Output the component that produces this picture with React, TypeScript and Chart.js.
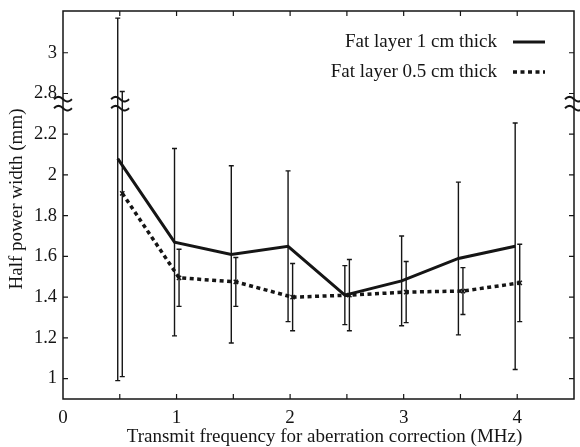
import { useEffect, useRef } from 'react';
import { Chart, registerables } from 'chart.js';

Chart.register(...registerables);

// ---- data ----
const frequencies = [0.5, 1, 1.5, 2, 2.5, 3, 3.5, 4];
const fat1cm = [2.08, 1.67, 1.61, 1.65, 1.41, 1.48, 1.59, 1.65];
const fat1cmErr = [1.09, 0.46, 0.435, 0.37, 0.145, 0.22, 0.375, 0.605];
const fat05cm = [1.91, 1.495, 1.475, 1.4, 1.41, 1.425, 1.43, 1.47];
const fat05cmErr = [0.9, 0.14, 0.12, 0.165, 0.175, 0.15, 0.115, 0.19];
const seriesLabels = ['Fat layer 1 cm thick', 'Fat layer 0.5 cm thick'];
const yTickValues = [1, 1.2, 1.4, 1.6, 1.8, 2, 2.2, 2.8, 3];
const xTitle = 'Transmit frequency for aberration correction (MHz)';
const yTitle = 'Half power width (mm)';

// broken y axis: the 2.2 .. 2.8 interval is compressed by 0.4
const BREAK_CUT = 0.4;
const toAxis = (v: number) => (v >= 2.5 ? v - BREAK_CUT : v);
const fromAxis = (a: number) => (a > 2.3 ? a + BREAK_CUT : a);
const BREAK_AT = 2.35; // axis units

const SHIFT_1 = -0.018;
const SHIFT_05 = 0.022;

const INK = '#151515';
const FONT = "'Liberation Serif', 'Times New Roman', serif";

function fmt(v: number) {
  return String(Math.round(v * 10) / 10);
}

const errorBarPlugin = {
  id: 'errorBars',
  beforeDatasetsDraw(chart: any) {
    const { ctx } = chart;
    const xs = chart.scales.x;
    const ys = chart.scales.y;
    ctx.save();
    ctx.strokeStyle = INK;
    ctx.lineWidth = 1.4;
    chart.data.datasets.forEach((ds: any) => {
      ds.data.forEach((pt: any, i: number) => {
        const real = ds.realValues[i];
        const e = ds.errors[i];
        const px = xs.getPixelForValue(pt.x);
        const top = ys.getPixelForValue(toAxis(real + e));
        const bot = ys.getPixelForValue(toAxis(real - e));
        ctx.beginPath();
        ctx.moveTo(px, top);
        ctx.lineTo(px, bot);
        ctx.moveTo(px - 2.5, top);
        ctx.lineTo(px + 2.5, top);
        ctx.moveTo(px - 2.5, bot);
        ctx.lineTo(px + 2.5, bot);
        ctx.stroke();
      });
    });
    ctx.restore();
  },
};

function drawBreak(ctx: CanvasRenderingContext2D, cx: number, cy: number) {
  ctx.save();
  ctx.strokeStyle = INK;
  ctx.lineWidth = 2;
  [-4.5, 4.5].forEach((dy) => {
    ctx.beginPath();
    for (let t = -9; t <= 9; t += 0.5) {
      const y = cy + dy + 2.3 * Math.sin((Math.PI * t) / 9);
      if (t === -9) ctx.moveTo(cx + t, y);
      else ctx.lineTo(cx + t, y);
    }
    ctx.stroke();
  });
  ctx.restore();
}

const framePlugin = {
  id: 'frame',
  afterDraw(chart: any) {
    const { ctx, chartArea: a } = chart;
    const xs = chart.scales.x;
    const ys = chart.scales.y;
    ctx.save();
    ctx.strokeStyle = INK;
    ctx.lineWidth = 1.5;
    ctx.strokeRect(a.left, a.top, a.right - a.left, a.bottom - a.top);
    ctx.lineWidth = 1.2;
    const TL = 5;
    ctx.beginPath();
    xs.ticks.forEach((t: any) => {
      const px = xs.getPixelForValue(t.value);
      if (px <= a.left + 1 || px >= a.right - 1) return;
      ctx.moveTo(px, a.bottom);
      ctx.lineTo(px, a.bottom - TL);
      ctx.moveTo(px, a.top);
      ctx.lineTo(px, a.top + TL);
    });
    ys.ticks.forEach((t: any) => {
      const py = ys.getPixelForValue(t.value);
      ctx.moveTo(a.left, py);
      ctx.lineTo(a.left + TL, py);
      ctx.moveTo(a.right, py);
      ctx.lineTo(a.right - TL, py);
    });
    ctx.stroke();

    // axis breaks
    const by = ys.getPixelForValue(BREAK_AT);
    drawBreak(ctx, a.left, by);
    drawBreak(ctx, a.right, by);
    drawBreak(ctx, xs.getPixelForValue(frequencies[0] + 0.003), by);

    // titles
    ctx.fillStyle = INK;
    ctx.font = `19px ${FONT}`;
    ctx.textAlign = 'center';
    ctx.textBaseline = 'middle';
    ctx.fillText(xTitle, (a.left + a.right) / 2 + 6, a.bottom + 38);
    ctx.save();
    ctx.translate(a.left - 46, (a.top + a.bottom) / 2 - 6);
    ctx.rotate(-Math.PI / 2);
    ctx.fillText(yTitle, 0, 0);
    ctx.restore();

    // legend
    chart.data.datasets.forEach((ds: any, i: number) => {
      const y = a.top + 31 + i * 30;
      const x1 = a.right - 61;
      const x2 = a.right - 29;
      ctx.textAlign = 'right';
      ctx.fillText(ds.label, x1 - 16, y);
      ctx.save();
      ctx.strokeStyle = ds.borderColor;
      ctx.lineWidth = ds.borderWidth;
      ctx.setLineDash(ds.borderDash || []);
      ctx.beginPath();
      ctx.moveTo(x1, y);
      ctx.lineTo(x2, y);
      ctx.stroke();
      ctx.restore();
    });
    ctx.restore();
  },
};

export default function App() {
  const ref = useRef<HTMLCanvasElement>(null);
  useEffect(() => {
    if (!ref.current) return;
    const chart = new Chart(ref.current, {
      type: 'line',
      data: {
        datasets: [
          {
            label: seriesLabels[0],
            data: frequencies.map((f, i) => ({ x: f + SHIFT_1, y: toAxis(fat1cm[i]) })),
            realValues: fat1cm,
            errors: fat1cmErr,
            borderColor: INK,
            borderWidth: 3,
            pointRadius: 0,
            tension: 0,
          } as any,
          {
            label: seriesLabels[1],
            data: frequencies.map((f, i) => ({ x: f + SHIFT_05, y: toAxis(fat05cm[i]) })),
            realValues: fat05cm,
            errors: fat05cmErr,
            borderColor: INK,
            borderWidth: 3.5,
            borderDash: [4, 3.5],
            pointStyle: 'crossRot',
            pointRadius: 3,
            pointBorderWidth: 1.5,
            pointBorderColor: INK,
            tension: 0,
          } as any,
        ],
      },
      options: {
        responsive: false,
        animation: false,
        layout: { padding: { top: 11, right: 6, left: 0, bottom: 0 } },
        plugins: { legend: { display: false }, tooltip: { enabled: false } },
        scales: {
          x: {
            type: 'linear',
            min: 0,
            max: 4.5,
            grid: { display: false, drawTicks: false },
            border: { display: false },
            ticks: {
              stepSize: 0.5,
              autoSkip: false,
              maxRotation: 0,
              padding: 8,
              color: INK,
              font: { family: FONT, size: 19 },
              callback: (v: any) => (Math.abs(v - Math.round(v)) < 1e-6 ? String(Math.round(v)) : ''),
            },
            afterFit: (s: any) => {
              s.height = 48;
              s.paddingLeft = 0;
              s.paddingRight = 0;
            },
          },
          y: {
            type: 'linear',
            min: 0.9,
            max: 2.805,
            grid: { display: false, drawTicks: false },
            border: { display: false },
            afterBuildTicks: (s: any) => {
              s.ticks = yTickValues.map((v) => ({ value: toAxis(v) }));
            },
            ticks: {
              autoSkip: false,
              padding: 6,
              color: INK,
              font: { family: FONT, size: 18.5 },
              callback: (v: any) => fmt(fromAxis(Number(v))),
            },
            afterFit: (s: any) => {
              s.width = 63;
              s.paddingTop = 0;
              s.paddingBottom = 0;
            },
          },
        },
      },
      plugins: [errorBarPlugin, framePlugin],
    });
    return () => chart.destroy();
  }, []);
  return (
    <div style={{ position: 'absolute', left: 0, top: 0, width: 580, height: 447, background: '#fff' }}>
      <canvas ref={ref} width={580} height={447} style={{ display: 'block' }} />
    </div>
  );
}
